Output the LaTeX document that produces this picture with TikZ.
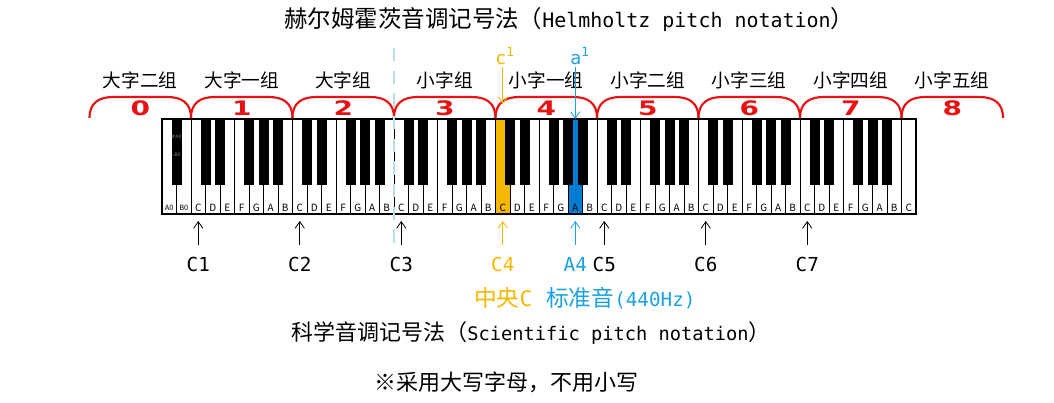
\documentclass[tikz,border=0pt]{standalone}
\usepackage{fontspec}
\setmainfont{Noto Sans CJK SC}
\newfontfamily\mono[Scale=0.85]{DejaVu Sans Mono}
\newfontfamily\digitfont{DejaVu Sans}
\newfontfamily\symfont{DejaVu Sans}
\usepackage{xcolor}
\usepackage{tikz}
\usetikzlibrary{arrows.meta,positioning,calc}

\definecolor{octred}{RGB}{232,18,18}
\definecolor{midc}{RGB}{245,183,0}
\definecolor{pitch}{RGB}{27,160,225}
\definecolor{pitchkey}{RGB}{0,124,210}
\definecolor{splitteal}{RGB}{185,222,224}
\newcommand\setfs[1]{\fontsize{#1}{#1}\selectfont}

\tikzset{
  txt/.style={inner sep=0pt,anchor=west},
  grp/.style={font=\setfs{14pt}},
  oct/.style={font=\digitfont\bfseries\setfs{15pt},text=octred,inner sep=0pt},
  brace/.style={octred,line width=1.6pt},
  keyw/.style={draw=black,fill=white,line width=0.5pt},
  keyb/.style={fill=black},
  keylbl/.style={font=\setfs{7.5pt},inner sep=0pt},
  ptr/.style={-{Straight Barb[length=5pt,width=7pt]},line width=0.6pt},
  pitchlbl/.style={font=\mono\setfs{17pt},inner sep=0pt},
  splitline/.style={splitteal,line width=2.2pt,dash pattern=on 10pt off 7pt}
}

\begin{document}
\begin{tikzpicture}[x=0.75pt,y=-0.75pt]
\useasboundingbox (0,0) rectangle (1054,403);
\def\kw{14.5}
\def\kx{162}

\node[txt,font=\setfs{17.6pt}] (helm) at (284,20) {赫尔姆霍茨音调记号法（{\mono Helmholtz pitch notation}）};

% octave braces with their group names
\foreach \k/\grp in {0/大字二组,1/大字一组,2/大字组,3/小字组,4/小字一组,5/小字二组,6/小字三组,7/小字四组,8/小字五组}{
  \pgfmathsetmacro\bx{89.5+\k*101.5}
  \draw[brace] (\bx,118) .. controls (\bx,103) and (\bx+9,97) .. (\bx+24,97) -- (\bx+77.5,97)
    .. controls (\bx+92.5,97) and (\bx+101.5,103) .. (\bx+101.5,118);
  \node[oct] (oct\k) at (\bx+50.75,108) {\scalebox{1.4}[1]{\k}};
  \node[grp] (grp\k) at (\bx+50.75,80) {\grp};
}

% white keys, middle C and a1 coloured
\foreach \i in {0,...,51}
  \draw[keyw] (\kx+\i*\kw,119) rectangle ++(\kw,95);
\draw[keyw,fill=midc] (\kx+23*\kw,119) rectangle ++(\kw,95);
\draw[keyw,fill=pitchkey] (\kx+28*\kw,119) rectangle ++(\kw,95);

\node[keylbl,font=\setfs{5.5pt}] (lA0) at (\kx+0.5*\kw,208) {A0};
\node[keylbl,font=\setfs{5.5pt}] (lB0) at (\kx+1.5*\kw,208) {B0};
\foreach \o in {0,...,6}
  \foreach \n [count=\j from 0] in {C,D,E,F,G,A,B}
    \node[keylbl] (l\o\n) at ({\kx+(2+\o*7+\j+0.5)*\kw},208) {\n};
\node[keylbl] (lC8) at (\kx+51.5*\kw,208) {C};

% black keys
\fill[keyb] (\kx+\kw-5,119) rectangle ++(10,66);
\foreach \o in {0,...,6}
  \foreach \b in {1,2,4,5,6}
    \fill[keyb] ({\kx+(2+\o*7+\b)*\kw-5},119) rectangle ++(10,66);
\node[font=\symfont\setfs{3.5pt},text=gray,inner sep=0pt] (sharpA0) at (\kx+\kw,137) {\#A0};
\node[font=\symfont\setfs{3.5pt},text=gray,inner sep=0pt] (flatB0) at (\kx+\kw,155) {♭B0};
\draw[line width=0.8pt] (\kx,119) rectangle (\kx+52*\kw,214);

% c1 and a1 above
\node[font=\mono\setfs{16pt},text=midc,inner sep=1pt] (hc1) at (505,56) {c\textsuperscript{1}};
\node[font=\mono\setfs{16pt},text=pitch,inner sep=1pt] (ha1) at (580,56) {a\textsuperscript{1}};
\coordinate (c4top) at (\kx+23.5*\kw,104);
\coordinate (a4top) at (\kx+28.5*\kw,119);
\draw[ptr,midc] (c4top |- hc1.south) -- (c4top);
\draw[ptr,pitch] (a4top |- ha1.south) -- (a4top);

% scientific names below
\foreach \i/\n/\col in {2/C1/black,9/C2/black,16/C3/black,23/C4/midc,28/A4/pitch,30/C5/black,37/C6/black,44/C7/black}{
  \coordinate (tip\n) at (\kx+\i*\kw+0.5*\kw,221);
  \coordinate (tail\n) at (\kx+\i*\kw+0.5*\kw,245);
  \draw[ptr,\col] (tail\n) -- (tip\n);
  \node[pitchlbl,text=\col] (lbl\n) at (\kx+\i*\kw+0.5*\kw,264) {\n};
}

\node[txt,font=\setfs{17pt},text=midc] (midC) at (474,298) {中央{\mono\setfs{19pt}C}};
\node[txt,font=\setfs{17pt},text=pitch] (stdA) at (546,298) {标准音{\mono (440Hz)}};

\node[txt,font=\setfs{16.5pt}] (sci) at (291,333) {科学音调记号法（{\mono Scientific pitch notation}）};
\node[txt,font=\setfs{16.5pt}] (rule) at (374,382) {※采用大写字母，不用小写};

% split between the two halves
\coordinate (splitTop) at (394,48);
\coordinate (splitBot) at (394,246);
\draw[splitline] (splitTop) -- (splitBot);
\end{tikzpicture}
\end{document}
